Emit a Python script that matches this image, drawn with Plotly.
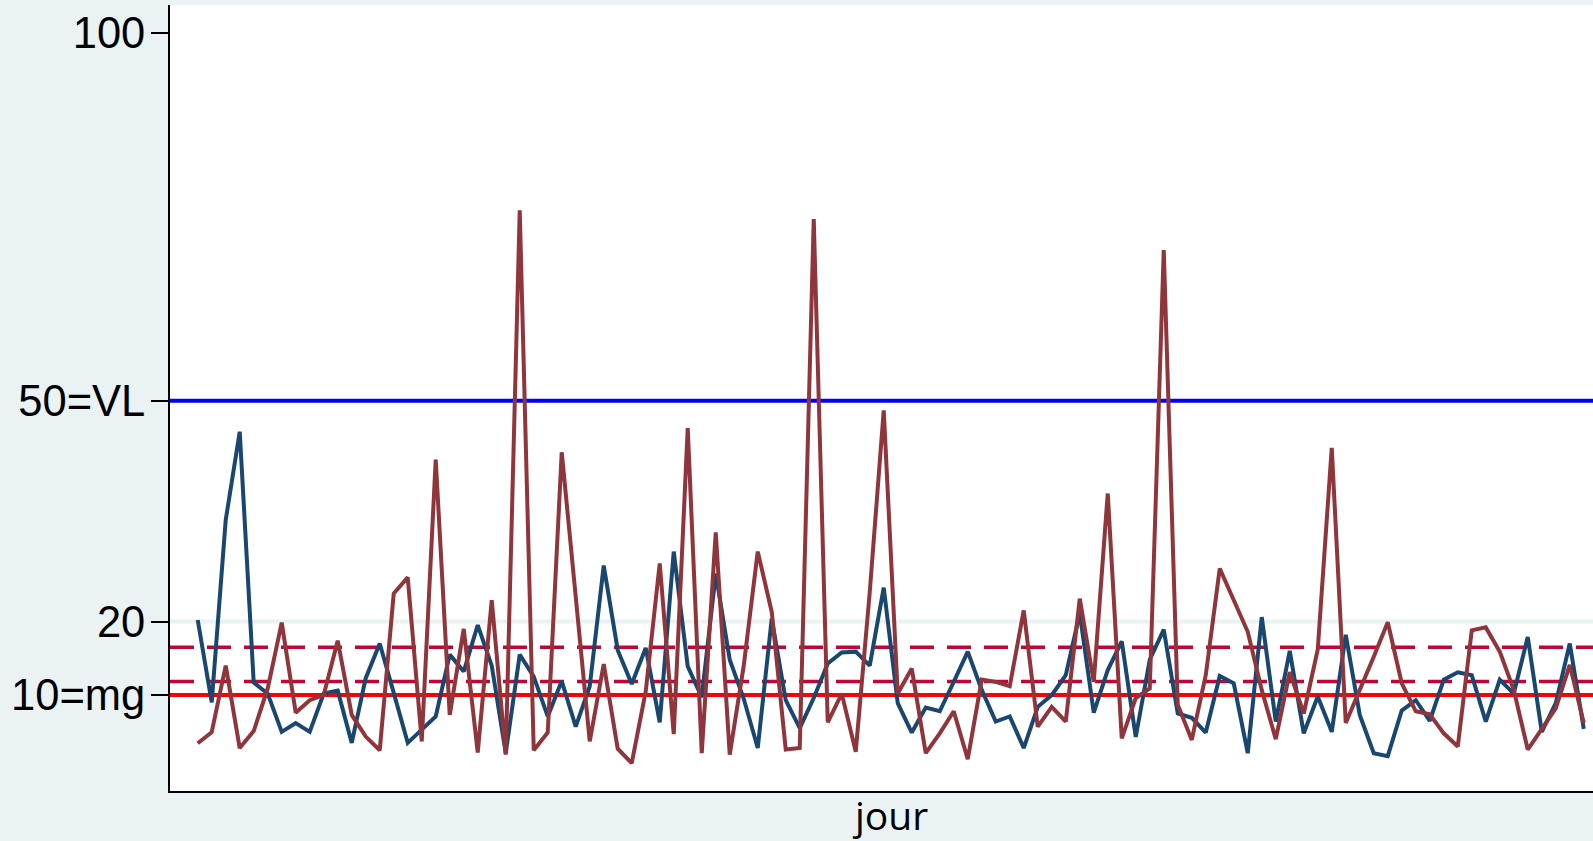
import plotly.graph_objects as go

jour = list(range(1, 101))

serie_bleue = [
    20.2, 9.0, 33.8, 45.8, 11.7, 10.2, 5.0, 6.2, 5.0, 10.2,
    10.6, 3.5, 12.3, 17.0, 10.3, 3.5, 5.3, 7.1, 15.5, 13.2,
    19.5, 14.0, 2.1, 15.5, 12.5, 7.1, 11.9, 5.7, 11.2, 27.6,
    16.1, 11.5, 16.4, 6.3, 29.5, 13.9, 9.7, 26.5, 14.8, 9.5,
    2.8, 20.4, 9.3, 5.5, 9.6, 14.3, 15.8, 15.9, 14.0, 24.6,
    8.9, 4.9, 8.3, 7.8, 11.8, 15.9, 10.7, 6.4, 7.1, 2.8,
    8.4, 10.0, 12.7, 21.1, 7.6, 13.4, 17.3, 4.3, 14.8, 18.9,
    7.5, 6.9, 4.9, 12.6, 11.6, 2.1, 20.6, 6.4, 16.0, 4.8,
    9.8, 5.0, 18.2, 7.3, 2.1, 1.7, 7.9, 9.3, 6.5, 12.1,
    13.1, 12.7, 6.4, 12.1, 10.2, 17.9, 5.0, 8.9, 17.0, 5.4,
]

serie_rouge = [
    3.45, 4.95, 14.0, 2.8, 5.1, 10.9, 19.85, 7.6, 9.3, 10.0,
    17.4, 7.3, 4.36, 2.5, 23.8, 26.0, 3.7, 42.0, 7.3, 19.0,
    2.2, 22.9, 1.9, 75.9, 2.5, 4.9, 43.0, 23.0, 3.7, 14.2,
    2.7, 0.75, 10.5, 27.9, 4.7, 46.3, 2.1, 32.1, 1.9, 14.0,
    29.5, 21.3, 2.6, 2.8, 74.7, 6.3, 10.2, 2.3, 24.0, 48.7,
    10.2, 13.6, 2.1, 4.8, 7.8, 1.3, 12.1, 11.8, 11.2, 21.5,
    5.7, 8.4, 6.4, 23.1, 11.8, 37.4, 4.1, 9.6, 10.9, 70.5,
    8.7, 3.9, 12.7, 27.2, 22.9, 18.6, 10.7, 4.0, 13.1, 7.5,
    16.2, 43.6, 6.2, 10.6, 15.2, 19.9, 11.6, 7.8, 7.4, 4.8,
    3.0, 18.8, 19.2, 15.9, 10.7, 2.6, 5.5, 8.2, 14.1, 6.2,
]

tick_vals = [10, 20, 50, 100]
tick_text = ["10=mg", "20", "50=VL", "100"]

vl = 50
mg = 10
seuils_tirets = [16.5, 11.85]
grille = [20]

fig = go.Figure()

fig.add_trace(go.Scatter(x=jour, y=serie_bleue, mode="lines",
                         line=dict(color="#1a476f", width=4), showlegend=False))
fig.add_trace(go.Scatter(x=jour, y=serie_rouge, mode="lines",
                         line=dict(color="#90353b", width=4), showlegend=False))

for g in grille:
    fig.add_hline(y=g, line=dict(color="#EAF2F3", width=4), layer="below")
fig.add_hline(y=vl, line=dict(color="#0000FF", width=4), layer="below")
fig.add_hline(y=mg, line=dict(color="#FF0000", width=4), layer="below")
for s in seuils_tirets:
    fig.add_hline(y=s, line=dict(color="#C10534", width=3.5, dash="24px,13px"), layer="below")

fig.add_annotation(text="jour", xref="paper", yref="paper", x=0.506, y=-0.0293,
                   xanchor="center", yanchor="middle", showarrow=False,
                   font=dict(family="Open Sans", size=39, color="black"))

fig.update_layout(
    width=1593, height=841,
    margin=dict(l=170, r=0, t=5, b=50),
    paper_bgcolor="#EAF2F3",
    plot_bgcolor="white",
    font=dict(family="Liberation Sans, Arial", color="black"),
    xaxis=dict(range=[-0.98, 100.66], showgrid=False, zeroline=False,
               showticklabels=False, ticks="", showline=True,
               linecolor="black", linewidth=2),
    yaxis=dict(range=[-3.04, 103.8], showgrid=False, zeroline=False,
               tickvals=tick_vals, ticktext=tick_text, ticks="outside",
               ticklen=17, tickwidth=1.5, tickcolor="black",
               showline=True, linecolor="black", linewidth=2,
               tickfont=dict(family="Liberation Sans, Arial", size=43.5),
               ticklabelstandoff=-3),
)

fig.write_html(
    "out.html",
    config={"displayModeBar": False},
    post_script="document.body.style.margin='0';document.body.style.overflow='hidden';",
)
